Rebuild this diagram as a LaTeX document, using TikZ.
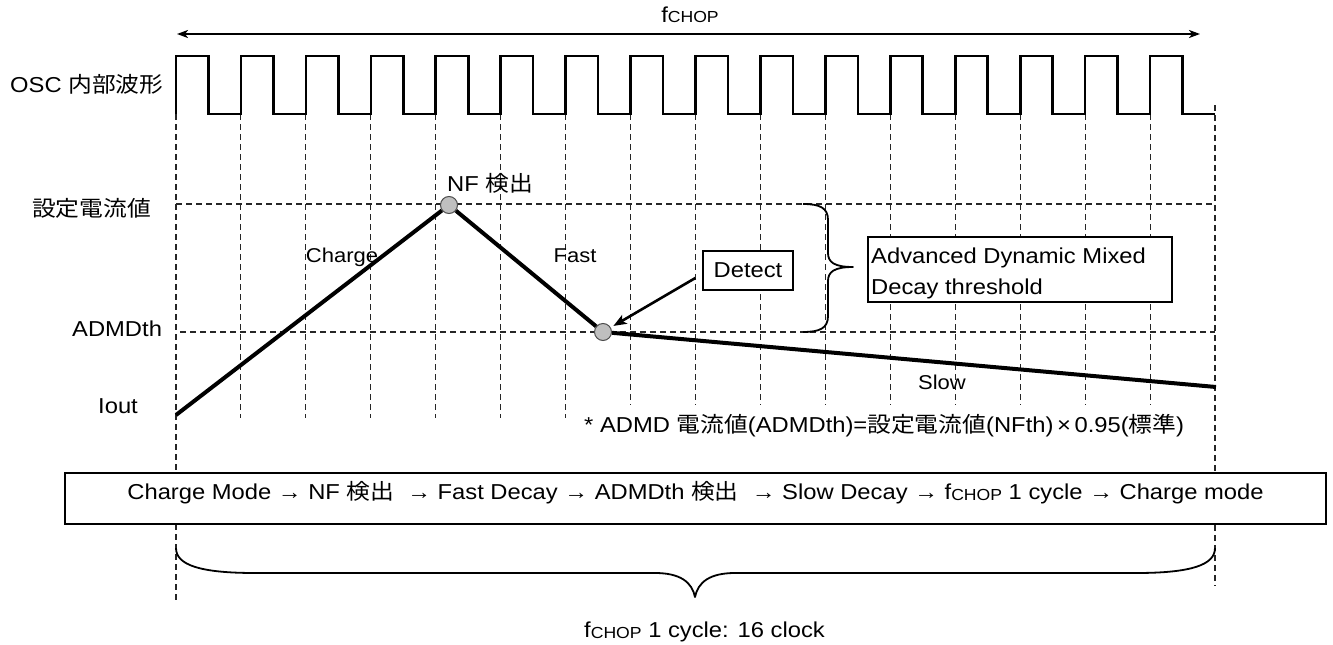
\documentclass[tikz,border=0pt]{standalone}
\usepackage{fontspec}
\setmainfont{Liberation Sans}[FakeStretch=1.1]
\newfontfamily\cjkfont{Noto Sans CJK JP}[FakeStretch=1.1]
\newcommand\jp[1]{{\cjkfont #1}}
\newcommand\fchop{f\raisebox{-1pt}{\fontsize{16}{16}\selectfont CHOP}}
\usetikzlibrary{arrows.meta}
\begin{document}
\begin{tikzpicture}[x=1pt,y=-1pt,
  every node/.style={font=\fontsize{21.6}{25}\selectfont, inner sep=0pt},
  small/.style={font=\fontsize{20}{23}\selectfont},
  grid/.style={line width=1.1pt, black!85, dash pattern=on 6pt off 4pt},
  wave/.style={line width=2.6pt, line join=miter},
  cur/.style={line width=4pt},
  dot/.style={circle, minimum size=17pt, fill=black!25, draw=black!70, line width=1pt},
  box/.style={draw, line width=1.3pt},
  arr/.style={line width=2.6pt, -{Stealth[length=13pt,width=10pt,inset=3pt]}},
  dbl/.style={line width=2pt, {Stealth[length=11pt,width=8pt,inset=3pt]}-{Stealth[length=11pt,width=8pt,inset=3pt]}},
  brc/.style={line width=1.8pt, line join=round},
]
\useasboundingbox (0,0) rectangle (1333,645);
\pgfmathsetmacro\P{1039/16}
\pgfmathsetmacro\H{1039/32}

% grid lines
\draw[grid] (176,114) -- (176,602);
\foreach \k in {1,...,6} \draw[grid] ({176+\k*\P},114) -- ({176+\k*\P},418);
\foreach \k in {7,...,15} \draw[grid] ({176+\k*\P},114) -- ({176+\k*\P},405);
\draw[grid] (1215,105) -- (1215,586);
\draw[grid] (176,204) -- (1215,204);
\draw[grid] (180,332) -- (1215,332);

% fCHOP arrow
\coordinate (fa) at (177,34);
\coordinate (fb) at (1200,34);
\draw[dbl] (fa) -- (fb);
\node[anchor=base] (ftop) at (690,22) {\fchop};

% OSC wave
\draw[wave] (176,114) \foreach \k in {0,...,15} { -- ({176+\k*\P},56) -- ({176+\k*\P+\H},56) -- ({176+\k*\P+\H},114) -- ({176+(\k+1)*\P},114) };

% left labels
\node[anchor=base west] (losc) at (10,92) {OSC \jp{内部波形}};
\node[anchor=base west] (lset) at (32,216) {\jp{設定電流値}};
\node[anchor=base west] (ladm) at (72,336) {ADMDth};
\node[anchor=base west] (liout) at (98,413) {Iout};

% current waveform
\node[dot] (c1) at (449,205) {};
\node[dot] (c2) at (603,332) {};
\coordinate (i0) at (176,415);
\coordinate (i3) at (1216,387);
\draw[cur] (i0) -- (c1) -- (c2) -- (i3);

\node[anchor=base west] (lnf) at (447,191) {NF \jp{検出}};
\node[small, anchor=base] (lch) at (342,262) {Charge};
\node[small, anchor=base] (lfa) at (575,262) {Fast};
\node[small, anchor=base] (lsl) at (942,389) {Slow};

% detect
\node[box, fill=white, minimum width=90pt, minimum height=39pt] (det) at (748,270.5) {Detect};
\draw[arr, shorten >=3pt] ([shift={(-7pt,-7.5pt)}]det.west) -- (c2);

% right brace
\draw[brc] (803,204) .. controls (820,204) and (828,208) .. (828,220) -- (828,253)
  .. controls (828,262) and (834,267) .. (853,267)
  .. controls (834,267) and (828,272) .. (828,281) -- (828,316)
  .. controls (828,328) and (820,332) .. (803,332);

% advanced box
\node[box, fill=white, minimum width=304pt, minimum height=65pt] (adv) at (1020,269.5) {};
\node[anchor=base west] (adv1) at (871,263) {Advanced Dynamic Mixed};
\node[anchor=base west] (adv2) at (871,294) {Decay threshold};

% footnote
\node[anchor=base west] (note) at (584,432) {* ADMD \jp{電流値}(ADMDth)=\jp{設定電流値}(NFth)\,×\,0.95(\jp{標準})};

% mode box
\node[box, fill=white, minimum width=1261pt, minimum height=51pt] (mode) at (695.5,498.5) {};
\node[anchor=base] (modet) at (695.5,499) {Charge Mode → NF \jp{検出}\ \ → Fast Decay → ADMDth \jp{検出}\ \ → Slow Decay → \fchop\ 1 cycle → Charge mode};

% bottom brace
\draw[brc] (176,548) .. controls (176,565) and (200,573) .. (255,573) -- (655,573)
  .. controls (680,573) and (692,582) .. (695,597)
  .. controls (698,582) and (710,573) .. (735,573) -- (1136,573)
  .. controls (1191,573) and (1215,565) .. (1215,548);
\node[anchor=base] (lcyc) at (704.5,637) {\fchop\ 1 cycle: 16 clock};
\end{tikzpicture}
\end{document}
